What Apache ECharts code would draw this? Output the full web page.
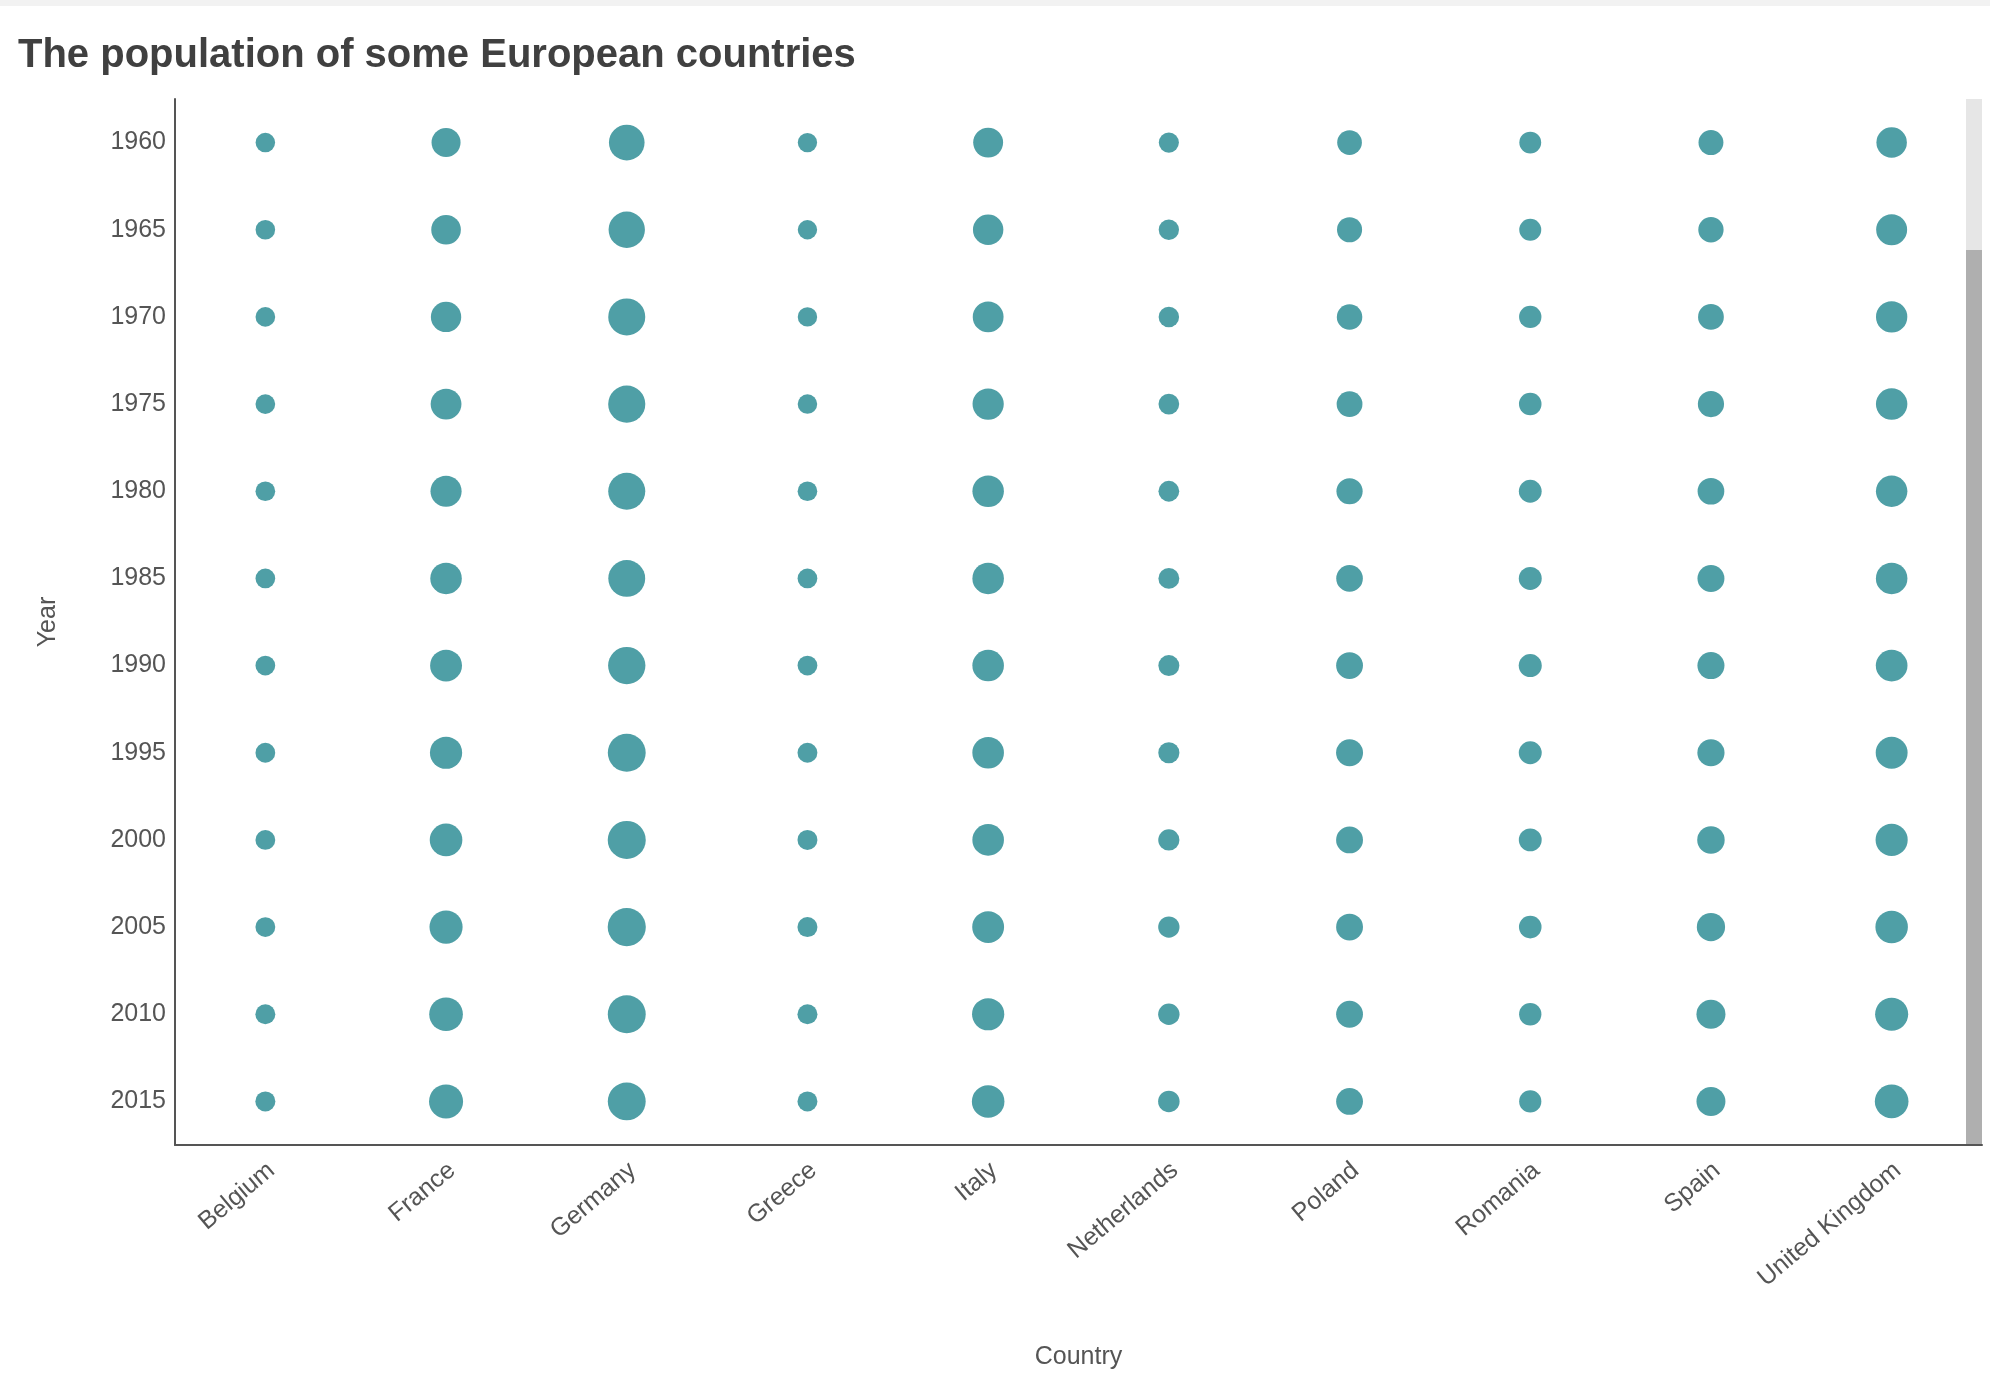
<!DOCTYPE html>
<html>
<head>
<meta charset="utf-8">
<title>The population of some European countries</title>
<script src="https://cdn.jsdelivr.net/npm/echarts/dist/echarts.min.js"></script>
<style>
  html, body { margin: 0; padding: 0; background: #fff; }
  #main { width: 1990px; height: 1398px; }
</style>
</head>
<body>
<div id="main"></div>
<script>
// categories
var countries = ['Belgium', 'France', 'Germany', 'Greece', 'Italy', 'Netherlands', 'Poland', 'Romania', 'Spain', 'United Kingdom'];
var years = ['1960', '1965', '1970', '1975', '1980', '1985', '1990', '1995', '2000', '2005', '2010', '2015'];

// population in millions, one value per year
var belgium     = [9.15, 9.46, 9.66, 9.80, 9.86, 9.86, 9.97, 10.14, 10.25, 10.48, 10.90, 11.27];
var france      = [46.6, 49.0, 51.9, 53.7, 55.1, 56.6, 58.0, 59.4, 60.9, 63.0, 65.0, 66.6];
var germany     = [72.8, 75.6, 78.2, 78.7, 78.3, 77.7, 79.4, 81.7, 82.2, 82.5, 81.8, 81.7];
var greece      = [8.33, 8.55, 8.79, 9.05, 9.64, 9.93, 10.20, 10.56, 10.81, 10.99, 11.12, 10.82];
var italy       = [50.2, 52.1, 53.8, 55.4, 56.4, 56.6, 56.7, 56.8, 56.9, 57.97, 59.3, 60.7];
var netherlands = [11.5, 12.3, 13.0, 13.7, 14.1, 14.5, 14.9, 15.5, 15.9, 16.3, 16.6, 16.9];
var poland      = [29.6, 31.3, 32.7, 34.0, 35.6, 37.2, 38.1, 38.6, 38.3, 38.2, 38.0, 38.0];
var romania     = [18.4, 19.0, 20.3, 21.2, 22.2, 22.7, 23.2, 22.7, 22.4, 21.3, 20.2, 19.8];
var spain       = [30.5, 32.1, 33.9, 35.6, 37.5, 38.5, 38.9, 39.4, 40.6, 43.7, 46.6, 46.4];
var uk          = [52.4, 54.3, 55.7, 56.2, 56.3, 56.6, 57.2, 58.0, 58.9, 60.4, 62.8, 65.1];

var byCountry = [belgium, france, germany, greece, italy, netherlands, poland, romania, spain, uk];

// [countryIndex, yearIndex, population]
var points = [];
byCountry.forEach(function (vals, c) {
    vals.forEach(function (v, y) {
        points.push([c, y, v]);
    });
});

var textColor = '#555';
var font = 'Liberation Sans, Arial, Helvetica, sans-serif';

var chart = echarts.init(document.getElementById('main'), null, { renderer: 'canvas' });
chart.setOption({
    animation: false,
    title: {
        text: 'The population of some European countries',
        left: 13,
        top: 31,
        textStyle: { fontFamily: font, fontSize: 40, fontWeight: 'bold', color: '#404040' }
    },
    grid: { left: 175, top: 99, right: 8, bottom: 253, containLabel: false },
    xAxis: {
        type: 'category',
        data: countries,
        name: 'Country',
        nameLocation: 'middle',
        nameGap: 200,
        nameTextStyle: { fontFamily: font, fontSize: 25, color: textColor },
        axisLine: { lineStyle: { color: textColor, width: 2 } },
        axisTick: { show: false },
        splitLine: { show: false },
        axisLabel: {
            rotate: 40, fontFamily: font, fontSize: 25, color: textColor,
            margin: 15, interval: 0, verticalAlign: 'top', lineHeight: 19
        }
    },
    yAxis: {
        type: 'category',
        data: years,
        inverse: true,
        name: 'Year',
        nameLocation: 'middle',
        nameGap: 114,
        nameTextStyle: { fontFamily: font, fontSize: 25, color: textColor },
        axisLine: { lineStyle: { color: textColor, width: 2 } },
        axisTick: { show: false },
        splitLine: { show: false },
        axisLabel: { fontFamily: font, fontSize: 25, color: textColor, margin: 9 }
    },
    visualMap: {
        show: false,
        dimension: 2,
        min: 8.33,
        max: 82.5,
        inRange: { symbolSize: [19.3, 38.1] }
    },
    series: [{
        type: 'scatter',
        data: points,
        symbol: 'circle',
        itemStyle: { color: '#4f9fa6', opacity: 1 }
    }],
    graphic: [
        // page strip at the top
        { type: 'rect', left: 0, top: 0, shape: { width: 1990, height: 6 }, style: { fill: '#f2f2f2' }, silent: true },
        // scrollbar track and thumb on the right of the plot
        { type: 'rect', left: 1966, top: 99, shape: { width: 16, height: 151 }, style: { fill: '#e6e6e6' }, silent: true },
        { type: 'rect', left: 1966, top: 250, shape: { width: 16, height: 894 }, style: { fill: '#afafaf' }, silent: true }
    ]
});
</script>
</body>
</html>
